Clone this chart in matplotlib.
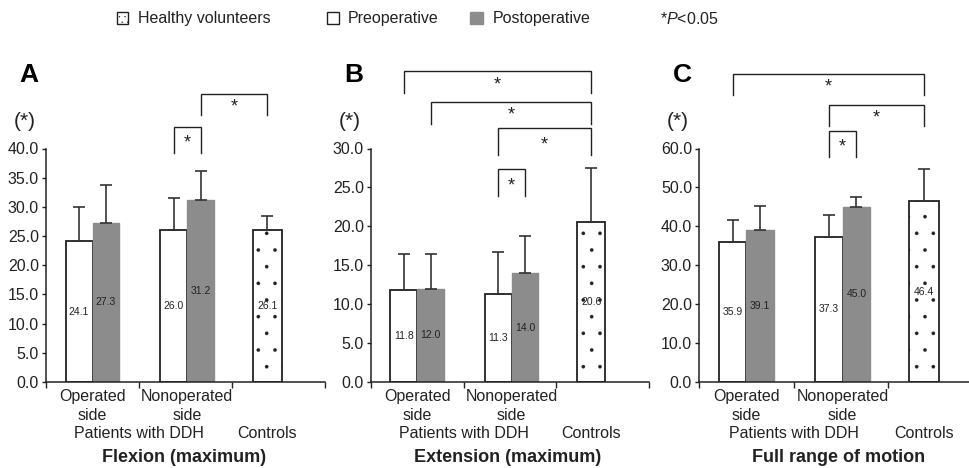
import matplotlib
matplotlib.use('Agg')
import matplotlib.pyplot as plt
from matplotlib.patches import Rectangle

plt.rcParams['font.family'] = ['Liberation Sans', 'DejaVu Sans']
plt.rcParams['mathtext.fontset'] = 'custom'
plt.rcParams['mathtext.rm'] = 'Liberation Sans'
plt.rcParams['mathtext.it'] = 'Liberation Sans:italic'
plt.rcParams['hatch.linewidth'] = 0.2

W, H = 969, 468

# data (degrees), per panel: [operated side, nonoperated side]
panels = ['A', 'B', 'C']
titles = ['Flexion (maximum)', 'Extension (maximum)', 'Full range of motion']
ymax = [40, 30, 60]
ystep = [5, 5, 10]
preop = [[24.1, 26.0], [11.8, 11.3], [35.9, 37.3]]
postop = [[27.3, 31.2], [12.0, 14.0], [39.1, 45.0]]
controls = [26.1, 20.6, 46.4]
preop_sd = [[5.8, 5.5], [4.7, 5.4], [5.8, 5.7]]
postop_sd = [[6.5, 4.9], [4.5, 4.7], [6.0, 2.6]]
controls_sd = [2.3, 6.9, 8.4]

# significance brackets: (bar i, bar j, top, leg bottom)
# bars: 0 pre operated, 1 post operated, 2 pre nonoperated, 3 post nonoperated, 4 controls
brackets = [
    [(2, 3, 43.6, 39.3), (3, 4, 49.4, 45.8)],
    [(0, 4, 39.9, 37.1), (1, 4, 36.0, 33.2), (2, 4, 32.6, 29.2), (2, 3, 27.4, 23.9)],
    [(0, 4, 79.1, 73.7), (2, 4, 71.1, 65.7), (2, 3, 64.6, 57.9)],
]

group_x = [0.5, 1.52]
bw = 0.29
ctrl_x = 2.38
ctrl_w = 0.31
dark = '#222222'
gray = '#8c8c8c'

axes_px = [(46, 93.0), (371, 92.5), (699, 94.5)]  # left edge, category width
top_px, bot_px = 148.5, 382

fig = plt.figure(figsize=(W / 100, H / 100), dpi=100)

for k in range(3):
    left, cell = axes_px[k]
    ax = fig.add_axes([left / W, (H - bot_px) / H, 3 * cell / W, (bot_px - top_px) / H])

    pre_x = [g - bw / 2 for g in group_x]
    post_x = [g + bw / 2 for g in group_x]
    ax.bar(pre_x, preop[k], bw, color='white', edgecolor=dark, linewidth=1.3, zorder=2)
    ax.bar(post_x, postop[k], bw, color=gray, edgecolor=gray, linewidth=1.0, zorder=2)
    ax.bar([ctrl_x], [controls[k]], ctrl_w, color='white', edgecolor=dark,
           linewidth=1.3, hatch='.', zorder=2)

    xs = pre_x + post_x + [ctrl_x]
    vals = preop[k] + postop[k] + [controls[k]]
    sds = preop_sd[k] + postop_sd[k] + [controls_sd[k]]
    ax.errorbar(xs, vals, yerr=[[0] * 5, sds], fmt='none', ecolor='#333333',
                elinewidth=1.2, capsize=4, capthick=1.2, zorder=3)
    for x, v in zip(xs, vals):
        ax.text(x, v / 2, f'{v:.1f}', ha='center', va='center', fontsize=7.5,
                color=dark, zorder=4)

    # bar centres in order used by the brackets
    centres = [pre_x[0], post_x[0], pre_x[1], post_x[1], ctrl_x]
    for i, j, t, b in brackets[k]:
        x1, x2 = centres[i], centres[j]
        ax.plot([x1, x1, x2, x2], [b, t, t, b], color=dark, lw=1.0,
                clip_on=False, solid_joinstyle='miter')
        ax.text((x1 + x2) / 2, t - (t - b) * 0.62, '*', ha='center', va='center',
                fontsize=13, color=dark, clip_on=False)

    ax.set_xlim(0, 3)
    ax.set_ylim(0, ymax[k])
    ax.set_xticks([0, 1, 2, 3])
    ax.set_xticklabels([])
    yt = list(range(0, ymax[k] + 1, ystep[k]))
    ax.set_yticks(yt)
    ax.set_yticklabels([f'{v:.1f}' for v in yt])
    for s in ['top', 'right']:
        ax.spines[s].set_visible(False)
    for s in ['left', 'bottom']:
        ax.spines[s].set_linewidth(1.1)
        ax.spines[s].set_color(dark)
    ax.tick_params(axis='y', direction='out', length=3, width=1.0, pad=2,
                   labelsize=11.5, colors=dark)
    ax.tick_params(axis='x', direction='out', length=4, width=1.0, colors=dark)

    # category labels below the axis (offsets in points)
    def lab(x, dy, s, **kw):
        ax.annotate(s, xy=(x, 0), xycoords=('data', 'axes fraction'),
                    xytext=(0, dy), textcoords='offset points',
                    ha='center', va='center', color=dark, **kw)

    lab(group_x[0], -15 * 0.72, 'Operated', fontsize=11.5)
    lab(group_x[0], -34 * 0.72, 'side', fontsize=11.5)
    lab(group_x[1], -15 * 0.72, 'Nonoperated', fontsize=11.5)
    lab(group_x[1], -34 * 0.72, 'side', fontsize=11.5)
    lab(1.0, -52 * 0.72, 'Patients with DDH', fontsize=11.5)
    lab(ctrl_x, -52 * 0.72, 'Controls', fontsize=11.5)
    lab(1.48, -76 * 0.72, titles[k], fontsize=13, fontweight='bold')

    ax.annotate('(*)', xy=(0, 1), xycoords='axes fraction', xytext=(-21 * 0.72, 27 * 0.72),
                textcoords='offset points', ha='center', va='center', fontsize=15,
                color=dark)
    ax.annotate(panels[k], xy=(0, 1), xycoords='axes fraction',
                xytext=(-17 * 0.72, 74 * 0.72), textcoords='offset points',
                ha='center', va='center', fontsize=19, fontweight='bold', color='black')

# legend across the top
def box(x0, y0, w, h, **kw):
    fig.add_artist(Rectangle((x0 / W, 1 - (y0 + h) / H), w / W, h / H,
                             transform=fig.transFigure, **kw))

box(117, 12, 11, 12, facecolor='white', edgecolor=dark, lw=1.0, hatch='...')
box(327, 12, 12, 12, facecolor='white', edgecolor=dark, lw=1.0)
box(470, 12, 13, 12, facecolor=gray, edgecolor=gray, lw=1.0)
ly = 1 - 18.5 / H
fig.text(138 / W, ly, 'Healthy volunteers', ha='left', va='center', fontsize=11.5, color=dark)
fig.text(348 / W, ly, 'Preoperative', ha='left', va='center', fontsize=11.5, color=dark)
fig.text(493 / W, ly, 'Postoperative', ha='left', va='center', fontsize=11.5, color=dark)
fig.text(660 / W, ly, r'*$\it{P}$<0.05', ha='left', va='center', fontsize=11.5, color=dark)

fig.savefig('out.png', dpi=100)
